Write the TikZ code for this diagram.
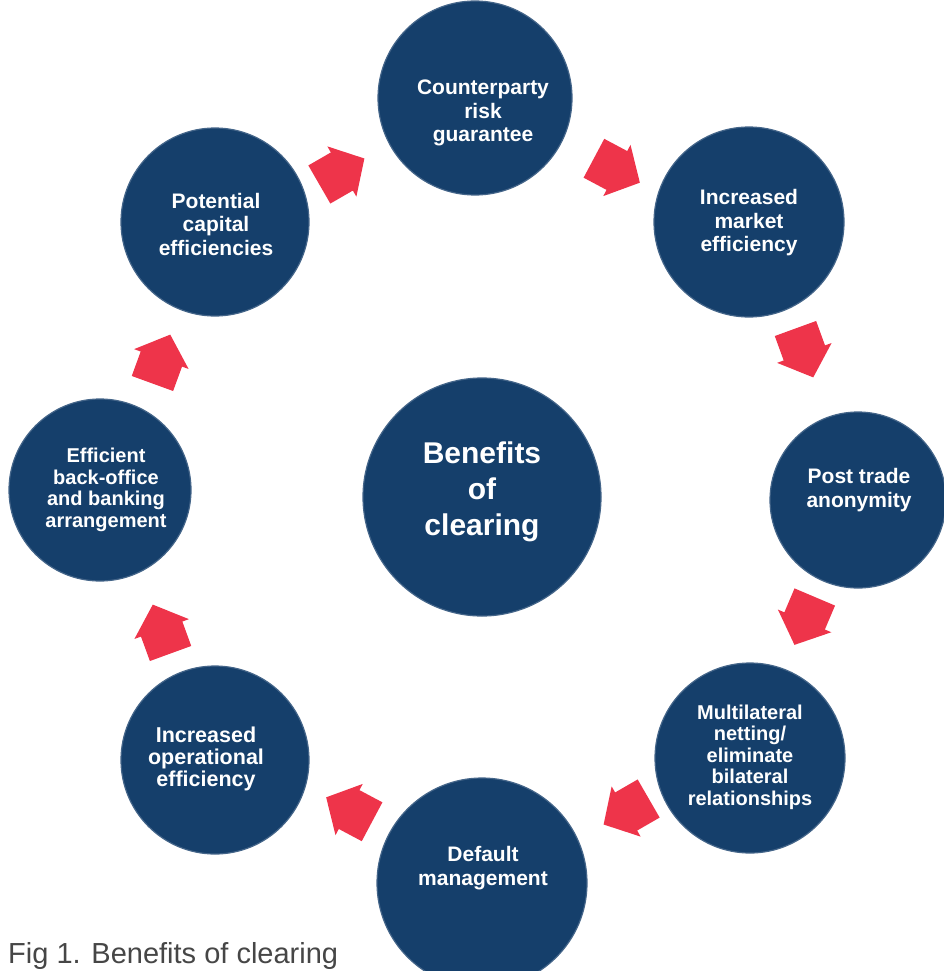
\documentclass[tikz,border=0pt]{standalone}
\usepackage{fontspec}
\setmainfont{Liberation Sans}
\definecolor{cblue}{RGB}{21,63,107}
\definecolor{cred}{RGB}{238,52,74}
\definecolor{cgray}{RGB}{70,70,70}
\newcommand\blockarr[3]{\fill[cred, shift={(#1,#2)}, rotate=#3] (-25,-22) -- (1,-22) -- (1,-29) -- (27,0) -- (1,29) -- (1,22) -- (-25,22) -- cycle;}
\begin{document}
\begin{tikzpicture}[x=1pt,y=-1pt,
  bubble/.style={circle, fill=cblue, draw=cblue!80!white, line width=1.2pt, inner sep=0pt, minimum size=#1},
  ctext/.style={text=white, align=center, inner sep=0pt, font=\bfseries\fontsize{21}{23.5}\selectfont},
  stext/.style={text=white, align=center, inner sep=0pt, font=\bfseries\fontsize{20}{21.5}\selectfont}]
\useasboundingbox (0,0) rectangle (944,971);
\clip (0,0) rectangle (944,971);
\fill[white] (0,0) rectangle (944,971);
% circles
\node[bubble=194pt] (c1) at (475,98) {};
\node[bubble=190pt] (c2) at (749,222) {};
\node[bubble=176pt] (c3) at (858,500) {};
\node[bubble=190pt] (c4) at (750,758) {};
\node[bubble=210pt] (c5) at (482,883) {};
\node[bubble=188pt] (c6) at (215,760) {};
\node[bubble=182pt] (c7) at (100,490) {};
\node[bubble=188pt] (c8) at (215,222) {};
\node[bubble=238pt] (c0) at (482,497) {};
% texts
\node[ctext] (t1) at (483,113) {Counterparty\\risk\\guarantee};
\node[ctext] (t2) at (749,223) {Increased\\market\\efficiency};
\node[ctext] (t3) at (859,490) {Post trade\\anonymity};
\node[stext] (t4) at (750,757) {Multilateral\\netting/\\eliminate\\bilateral\\relationships};
\node[ctext] (t5) at (483,868) {Default\\management};
\node[text=white, align=center, inner sep=0pt, font=\bfseries\fontsize{21.5}{21.8}\selectfont] (t6) at (206,759) {Increased\\operational\\efficiency};
\node[stext] (t7) at (106,490) {Efficient\\back-office\\and banking\\arrangement};
\node[ctext] (t8) at (216,224) {Potential\\capital\\efficiencies};
\node[text=white, align=center, inner sep=0pt, font=\bfseries\fontsize{30}{36}\selectfont] (t0) at (482,492) {Benefits\\of\\clearing};
% arrows
\blockarr{341}{172}{30}
\blockarr{616}{170}{-28}
\blockarr{804}{352}{-70}
\blockarr{805}{620}{-113}
\blockarr{627}{811}{-150}
\blockarr{350}{810}{152}
\blockarr{162}{630}{110}
\blockarr{161}{360}{70}
% caption
\node[anchor=base west, inner sep=0pt, text=cgray, font=\fontsize{29}{32}\selectfont] (cap) at (8,963) {Fig 1. Benefits of clearing};
\end{tikzpicture}
\end{document}
